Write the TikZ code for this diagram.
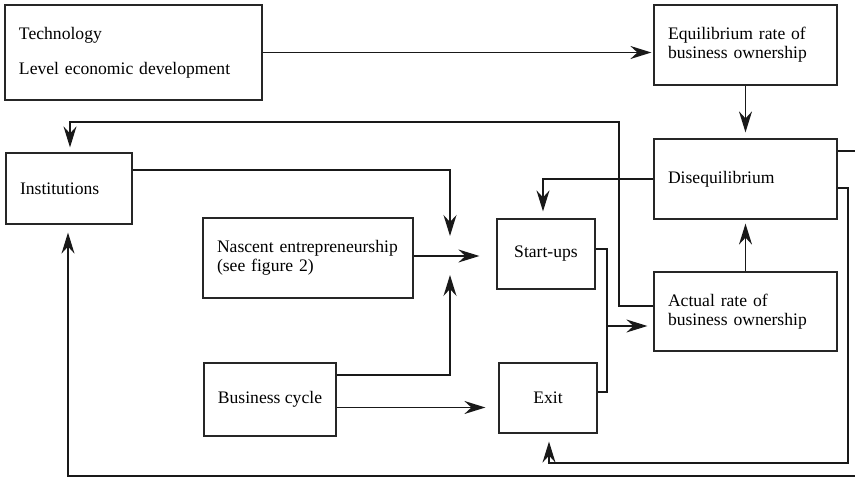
\documentclass[tikz,border=0pt]{standalone}
\usepackage{fontspec}
\setmainfont{Liberation Serif}
\usetikzlibrary{arrows.meta}
\begin{document}
\begin{tikzpicture}[x=1pt,y=-1pt,
  mybox/.style={draw=black!85, line width=1.2pt, inner xsep=14pt, inner ysep=0pt,
    font=\fontsize{17.6}{19}\selectfont, anchor=center},
  arr/.style={line width=1.4pt, draw=black!90, -{Stealth[length=21pt,width=13pt,inset=7pt]}},
  ln/.style={line width=1.4pt, draw=black!90}]
\useasboundingbox (0,0) rectangle (855,478);

% boxes
\node[mybox, align=left, minimum width=257pt, text width=229pt, minimum height=95pt] (tech) at (133.5,52.5)
  {Technology\\[16pt]Level economic development};
\node[mybox, align=left, minimum width=183pt, text width=155pt, minimum height=80pt] (equil) at (745.5,45)
  {Equilibrium rate of\\business ownership};
\node[mybox, align=left, minimum width=183pt, text width=155pt, minimum height=80pt] (diseq) at (745.5,179)
  {Disequilibrium};
\node[mybox, align=left, minimum width=183pt, text width=155pt, minimum height=79pt] (actual) at (745.5,311.5)
  {Actual rate of\\business ownership};
\node[mybox, align=left, minimum width=126pt, text width=98pt, minimum height=71pt] (inst) at (69,188.5)
  {Institutions};
\node[mybox, align=left, minimum width=210pt, text width=182pt, minimum height=80pt] (nascent) at (308,258)
  {Nascent entrepreneurship\\(see figure 2)};
\node[mybox, align=center, inner xsep=8pt, minimum width=98pt, minimum height=70pt] (startups) at (546,254)
  {Start-ups};
\node[mybox, align=center, inner xsep=8pt, minimum width=132pt, minimum height=73pt] (bcycle) at (270,399.5)
  {Business cycle};
\node[mybox, align=center, inner xsep=8pt, minimum width=98pt, minimum height=70pt] (exit) at (548,398)
  {Exit};

% helper coordinates
\coordinate (hub) at (450,256);
\coordinate (m) at (607,326);
\coordinate (c1) at (619,122);
\coordinate (c2) at (848,463);
\coordinate (c3) at (857,476);

% connectors
\draw[arr, shorten >=2pt] (tech.east) -- (tech.east -| equil.west);
\draw[arr, shorten >=6pt] (equil.south) -- (diseq.north);
\draw[arr, shorten >=4pt] (actual.north) -- (diseq.south);
\draw[arr, shorten >=7pt] (diseq.west) -| ([xshift=-3pt]startups.north);
\draw[arr, shorten >=20pt] ([yshift=18.5pt]inst.east) -| (hub);
\draw[arr, shorten >=19pt] ([yshift=24.5pt]bcycle.east) -| (hub);
\draw[arr, shorten >=17pt] ([yshift=2pt]nascent.east) -- ([yshift=2pt]nascent.east -| startups.west);
\draw[arr, shorten >=13pt] ([yshift=-8pt]bcycle.east) -- ([yshift=-8pt]bcycle.east -| exit.west);
\draw[ln] ([yshift=5pt]startups.east) -| (m) |- ([yshift=6pt]exit.east);
\draw[arr, shorten >=6pt] (m) -- (m -| actual.west);
\draw[arr, shorten >=5pt] ([yshift=5.5pt]actual.west) -| (c1) -| ([xshift=1pt]inst.north);
\draw[arr, shorten >=8pt] ([yshift=-9pt]diseq.east) -| (c2) -| ([xshift=1pt]exit.south);
\draw[arr, shorten >=8pt] ([yshift=28pt]diseq.east) -| (c3) -| ([xshift=-1pt]inst.south);
\end{tikzpicture}
\end{document}
